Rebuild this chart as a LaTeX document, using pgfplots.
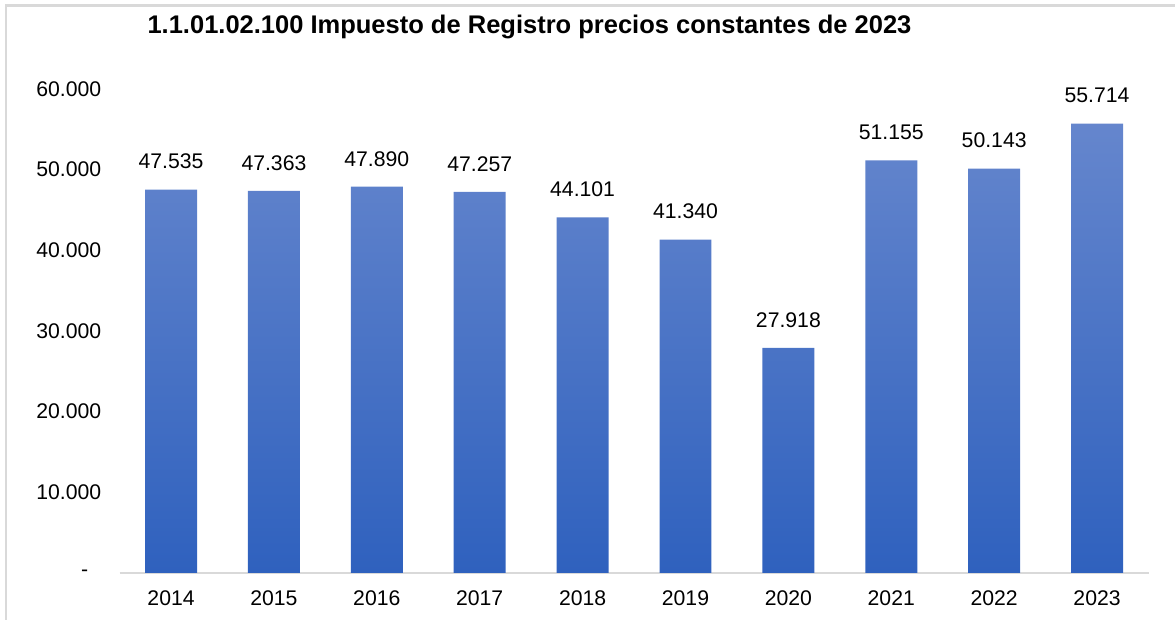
\documentclass[border=0pt]{standalone}
\usepackage{pgfplots}
\pgfplotsset{compat=1.18}
\usepackage{fontspec}
\setmainfont{Liberation Sans}
\definecolor{bartop}{RGB}{101,134,205}
\definecolor{barbot}{RGB}{47,97,190}
\definecolor{frame}{RGB}{217,217,217}
\begin{document}
\begin{tikzpicture}
\useasboundingbox (0,0) rectangle (587.5pt,-310pt);
\draw[frame, line width=1.2pt] (3pt,-312pt) -- (3pt,-2.75pt) -- (590pt,-2.75pt);
\node[font=\bfseries\fontsize{12.75}{15}\selectfont, anchor=center] at (264.75pt,-13.5pt) {1.1.01.02.100 Impuesto de Registro precios constantes de 2023};
\begin{axis}[
  at={(59.8pt,-286.5pt)}, anchor=south west,
  scale only axis, width=514.45pt, height=242pt,
  xmin=-0.5, xmax=9.5, ymin=0, ymax=60000,
  scaled y ticks=false,
  axis x line=bottom, axis y line=left,
  x axis line style={draw=frame, line width=1pt, -},
  y axis line style={draw=none},
  major tick length=0pt,
  xtick={0,...,9},
  xticklabels={2014,2015,2016,2017,2018,2019,2020,2021,2022,2023},
  ytick={0,10000,20000,30000,40000,50000,60000},
  yticklabels={-\kern6.5pt\null,10.000,20.000,30.000,40.000,50.000,60.000},
  tick label style={font=\fontsize{10.6}{12}\selectfont},
  xticklabel style={inner sep=0pt, yshift=-8.5pt},
  yticklabel style={inner sep=0pt, xshift=-9pt},
  /pgf/number format/assume math mode=true,
  clip=false,
]
\addplot[ybar, bar width=0.505, draw=none, top color=bartop, bottom color=barbot,
  nodes near coords,
  nodes near coords style={font=\fontsize{10.6}{12}\selectfont, inner sep=0pt, anchor=south, yshift=10pt, text=black,
    /pgf/number format/.cd, fixed, precision=0, 1000 sep={.}, assume math mode=true},
] coordinates {
(0,47535) (1,47363) (2,47890) (3,47257) (4,44101) (5,41340) (6,27918) (7,51155) (8,50143) (9,55714)
};
\end{axis}
\end{tikzpicture}
\end{document}
